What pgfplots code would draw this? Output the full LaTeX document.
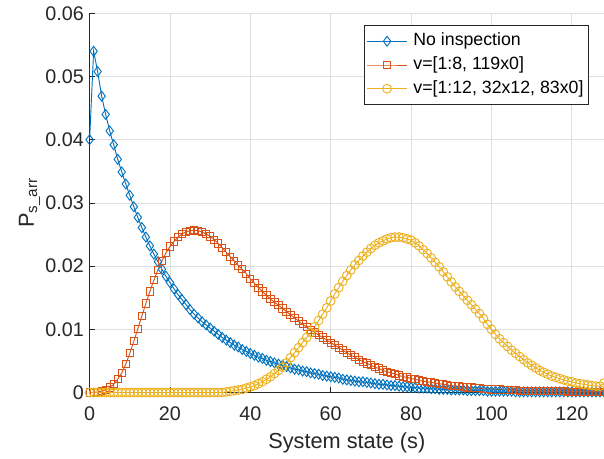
\documentclass[border=0pt]{standalone}
\usepackage{fontspec}
\setmainfont{Liberation Sans}
\usepackage{pgfplots}
\usepackage{pgfplotstable}
\pgfplotsset{compat=1.18}

\definecolor{mblue}{rgb}{0,0.447,0.741}
\definecolor{morange}{rgb}{0.850,0.325,0.098}
\definecolor{myellow}{rgb}{0.929,0.694,0.125}
\definecolor{axgray}{rgb}{0.15,0.15,0.15}
\definecolor{gridgray}{rgb}{0.875,0.875,0.875}

% s, no inspection, v=[1:8,119x0], v=[1:12,32x12,83x0]
\pgfplotstableread{
s noinsp vA vB
0 0.0400 0.0000 0
1 0.0540 0.0000 0
2 0.0508 0.0001 0
3 0.0469 0.0002 0
4 0.0440 0.0004 0
5 0.0414 0.0008 0
6 0.0392 0.0013 0
7 0.0369 0.0021 0
8 0.0349 0.0031 0
9 0.0330 0.0045 0
10 0.0312 0.0062 0
11 0.0294 0.0081 0
12 0.0277 0.0101 0
13 0.0261 0.0121 0
14 0.0246 0.0141 0
15 0.0232 0.0160 0
16 0.0219 0.0178 0
17 0.0207 0.0194 0
18 0.0195 0.0208 0
19 0.0184 0.0221 0
20 0.0174 0.0231 0
21 0.0164 0.0239 0
22 0.0155 0.0246 0
23 0.0147 0.0251 0
24 0.0139 0.0254 0
25 0.0131 0.0256 0
26 0.0124 0.0257 0
27 0.0118 0.0256 0
28 0.0112 0.0254 0
29 0.0107 0.0251 0
30 0.0102 0.0247 0
31 0.0097 0.0242 0
32 0.0092 0.0236 0
33 0.0087 0.0229 0
34 0.0083 0.0222 0.0001
35 0.0079 0.0215 0.0002
36 0.0075 0.0208 0.0003
37 0.0072 0.0201 0.0004
38 0.0068 0.0195 0.0005
39 0.0065 0.0188 0.0007
40 0.0062 0.0180 0.0009
41 0.0059 0.0173 0.0011
42 0.0056 0.0166 0.0014
43 0.0054 0.0160 0.0017
44 0.0051 0.0154 0.0021
45 0.0049 0.0148 0.0025
46 0.0047 0.0143 0.0030
47 0.0045 0.0138 0.0035
48 0.0043 0.0133 0.0040
49 0.0041 0.0128 0.0047
50 0.0039 0.0123 0.0055
51 0.0037 0.0118 0.0063
52 0.0036 0.0113 0.0071
53 0.0034 0.0108 0.0079
54 0.0033 0.0104 0.0087
55 0.0031 0.0099 0.0095
56 0.0030 0.0095 0.0104
57 0.0029 0.0091 0.0114
58 0.0027 0.0087 0.0124
59 0.0026 0.0083 0.0134
60 0.0025 0.0079 0.0145
61 0.0024 0.0075 0.0156
62 0.0023 0.0071 0.0166
63 0.0021 0.0067 0.0176
64 0.0020 0.0063 0.0185
65 0.0019 0.0059 0.0194
66 0.0018 0.0056 0.0202
67 0.0017 0.0052 0.0209
68 0.0017 0.0049 0.0216
69 0.0016 0.0046 0.0222
70 0.0015 0.0043 0.0228
71 0.0014 0.0040 0.0233
72 0.0013 0.0038 0.0237
73 0.0013 0.0035 0.0240
74 0.0012 0.0033 0.0243
75 0.0011 0.0031 0.0245
76 0.0011 0.0029 0.0246
77 0.0010 0.0027 0.0246
78 0.0009 0.0025 0.0245
79 0.0009 0.0024 0.0243
80 0.0008 0.0022 0.0241
81 0.0008 0.0021 0.0237
82 0.0007 0.0019 0.0232
83 0.0007 0.0018 0.0226
84 0.0007 0.0017 0.0220
85 0.0006 0.0016 0.0213
86 0.0006 0.0015 0.0206
87 0.0005 0.0014 0.0199
88 0.0005 0.0013 0.0191
89 0.0005 0.0012 0.0183
90 0.0004 0.0011 0.0175
91 0.0004 0.0010 0.0167
92 0.0004 0.0010 0.0160
93 0.0004 0.0009 0.0153
94 0.0003 0.0008 0.0146
95 0.0003 0.0008 0.0139
96 0.0003 0.0007 0.0132
97 0.0003 0.0007 0.0125
98 0.0003 0.0006 0.0117
99 0.0002 0.0006 0.0108
100 0.0002 0.0005 0.0100
101 0.0002 0.0005 0.0092
102 0.0002 0.0005 0.0085
103 0.0002 0.0004 0.0079
104 0.0002 0.0004 0.0073
105 0.0002 0.0004 0.0067
106 0.0001 0.0004 0.0062
107 0.0001 0.0003 0.0057
108 0.0001 0.0003 0.0052
109 0.0001 0.0003 0.0047
110 0.0001 0.0003 0.0043
111 0.0001 0.0003 0.0039
112 0.0001 0.0002 0.0035
113 0.0001 0.0002 0.0032
114 0.0001 0.0002 0.0029
115 0.0001 0.0002 0.0026
116 0.0001 0.0002 0.0024
117 0.0001 0.0002 0.0022
118 0.0001 0.0002 0.0020
119 0.0001 0.0001 0.0018
120 0.0001 0.0001 0.0017
121 0.0001 0.0001 0.0015
122 0.0001 0.0001 0.0014
123 0.0001 0.0001 0.0013
124 0.0001 0.0001 0.0012
125 0.0001 0.0001 0.0011
126 0.0001 0.0001 0.0010
127 0.0001 0.0001 0.0010
128 0.0001 0.0001 0.0015
}\statetab

\begin{document}
\begin{tikzpicture}
\path[use as bounding box] (-67.2pt,-49.1pt) rectangle (385.8pt,294.4pt);
\begin{axis}[
  at={(0,0)}, anchor=south west,
  scale only axis, width=385.8pt, height=284.4pt,
  xmin=0, xmax=128, ymin=0, ymax=0.06,
  axis lines*=left,
  axis line style={color=axgray, line width=0.6pt},
  tick align=inside,
  major tick length=4pt,
  tick style={color=axgray, line width=0.6pt},
  grid=major,
  grid style={color=gridgray, line width=0.6pt},
  xtick={0,20,40,60,80,100,120},
  xticklabels={0,20,40,60,80,100,120},
  ytick={0,0.01,0.02,0.03,0.04,0.05,0.06},
  yticklabels={0,0.01,0.02,0.03,0.04,0.05,0.06},
  scaled y ticks=false,
  ticklabel style={font=\fontsize{14.8}{17}\selectfont, text=axgray},
  xticklabel style={yshift=-7pt},
  yticklabel style={xshift=-0.8pt},
  label style={font=\fontsize{16.3}{19}\selectfont, text=axgray},
  xlabel={System state (s)},
  ylabel={P\textsubscript{s\_arr}},
  xlabel style={yshift=-2pt},
  ylabel style={yshift=-3pt},
  legend cell align=left,
  legend image code/.code={\draw[mark repeat=2,mark phase=2,#1] plot coordinates {(0pt,0pt) (15pt,0pt) (30pt,0pt)};},
  legend style={at={(rel axis cs:1,1)}, anchor=north east, xshift=-11.25pt, yshift=-8.8pt,
    draw=axgray, line width=0.5pt, fill=white,
    font=\fontsize{13.3}{16}\selectfont, text=black,
    nodes={text height=10pt, text depth=3pt, inner sep=2.4pt},
    column sep=2pt,
    inner xsep=1.5pt, inner ysep=3pt},
]
\addplot[color=mblue, line width=0.7pt, mark=diamond, mark size=3.7pt, mark options={solid}] table[x=s, y=noinsp] {\statetab};
\addlegendentry{No inspection}
\addplot[color=morange, line width=0.7pt, mark=square, mark size=2.7pt, mark options={solid}] table[x=s, y=vA] {\statetab};
\addlegendentry{v=[1:8, 119x0]}
\addplot[color=myellow, line width=0.7pt, mark=o, mark size=3.3pt, mark options={solid}] table[x=s, y=vB] {\statetab};
\addlegendentry{v=[1:12, 32x12, 83x0]}
\end{axis}
\end{tikzpicture}
\end{document}
